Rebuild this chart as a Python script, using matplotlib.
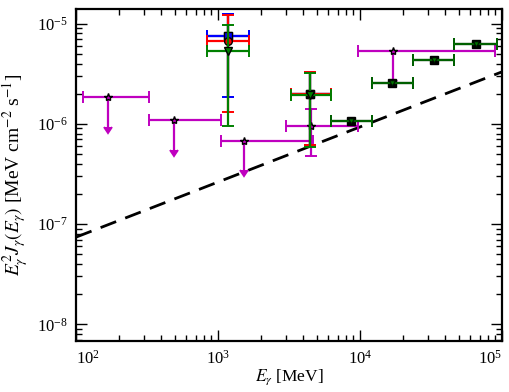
import numpy as np
import matplotlib
matplotlib.use('Agg')
import matplotlib.pyplot as plt

# --- data ---
# sensitivity curve (dashed)
E_sens = [1e2, 1e5]
F_sens = [7.4e-8, 3.3e-6]

# magenta: stars, mostly upper limits
E_m = [167, 492, 1530, 4500, 17000]
E_m_lo = [112, 325, 1050, 3000, 9640]
E_m_hi = [327, 1050, 4670, 9680, 89300]
F_m = [1.86e-6, 1.10e-6, 6.8e-7, 9.5e-7, 5.37e-6]
F_m_top = [1.86e-6, 1.10e-6, 6.8e-7, 1.41e-6, 5.37e-6]
F_m_bot = [9.3e-7, 5.5e-7, 3.5e-7, 4.8e-7, 2.75e-6]
m_ul = [True, True, True, False, True]

# two low bins shared by all models
E_lo = [1170, 4470]
E_lo_lo = [832, 3250]
E_lo_hi = [1652, 6220]

F_blue = [7.46e-6, 1.98e-6]
F_blue_top = [1.25e-5, 3.30e-6]
F_blue_bot = [1.85e-6, 6.2e-7]

F_red = [6.76e-6, 1.98e-6]
F_red_top = [1.23e-5, 3.26e-6]
F_red_bot = [1.31e-6, 6.1e-7]

F_green = [5.37e-6, 1.95e-6]
F_green_top = [9.7e-6, 3.20e-6]
F_green_bot = [9.55e-7, 5.9e-7]

# high bins (black + green coincide)
E_hi = [8650, 16900, 33300, 65300]
E_hi_lo = [6250, 12200, 23700, 46100]
E_hi_hi = [12200, 23700, 46100, 91800]
F_hi = [1.08e-6, 2.55e-6, 4.36e-6, 6.3e-6]

x_major = [1e2, 1e3, 1e4, 1e5]


def xerr_of(E, lo, hi):
    E = np.array(E)
    return [E - np.array(lo), np.array(hi) - E]


def yerr_of(F, top, bot):
    F = np.array(F)
    return [F - np.array(bot), np.array(top) - F]


plt.rcParams['font.family'] = ['Liberation Serif', 'DejaVu Serif']
plt.rcParams['mathtext.fontset'] = 'stix'
plt.rcParams['font.size'] = 12

fig = plt.figure(figsize=(5.1, 3.92), dpi=100)
ax = fig.add_axes([0.149, 0.130, 0.835, 0.847])

ax.plot(E_sens, F_sens, 'k--', lw=2.0, dashes=(6, 3.5))

kw = dict(lw=1.6, capsize=4, capthick=1.4, mec='k', ls='none')

# magenta
eb = ax.errorbar(E_m, F_m, xerr=xerr_of(E_m, E_m_lo, E_m_hi),
                 yerr=yerr_of(F_m, F_m_top, F_m_bot), uplims=m_ul,
                 color='m', marker='*', ms=6, mfc='m', zorder=3, **kw)
# smaller arrow heads on the upper limits
for cl in eb[1]:
    if cl.get_marker() not in ('|', '_'):
        cl.set_markersize(5.5)

# black (same as blue at low bins)
ax.errorbar(E_lo, F_blue, xerr=xerr_of(E_lo, E_lo_lo, E_lo_hi),
            yerr=yerr_of(F_blue, F_blue_top, F_blue_bot),
            color='k', marker='s', ms=6, mfc='k', alpha=0.6, zorder=4, **kw)
ax.errorbar(E_hi, F_hi, xerr=xerr_of(E_hi, E_hi_lo, E_hi_hi),
            color='k', marker='s', ms=5.5, mfc='k', zorder=4, **kw)

# blue
ax.errorbar(E_lo, F_blue, xerr=xerr_of(E_lo, E_lo_lo, E_lo_hi),
            yerr=yerr_of(F_blue, F_blue_top, F_blue_bot),
            color='b', marker='s', ms=6, mfc='b', zorder=5, **kw)
# red
ax.errorbar(E_lo, F_red, xerr=xerr_of(E_lo, E_lo_lo, E_lo_hi),
            yerr=yerr_of(F_red, F_red_top, F_red_bot),
            color='r', marker='o', ms=5.5, mfc='r', zorder=6, **kw)
# green
ax.errorbar(E_lo, F_green, xerr=xerr_of(E_lo, E_lo_lo, E_lo_hi),
            yerr=yerr_of(F_green, F_green_top, F_green_bot),
            color='g', marker='v', ms=5.5, mfc='g', zorder=7, **kw)
ax.errorbar(E_hi, F_hi, xerr=xerr_of(E_hi, E_hi_lo, E_hi_hi),
            color='g', marker='v', ms=4.5, mfc='g', alpha=0.75, zorder=7, **kw)

ax.set_xscale('log')
ax.set_yscale('log')
ax.set_xticks(x_major)
ax.set_xlim(1e2, 1e5)
ax.set_ylim(6.8e-9, 1.4e-5)

for s in ax.spines.values():
    s.set_linewidth(1.6)
ax.tick_params(which='both', direction='in', top=True, right=True)
ax.tick_params(which='major', length=8, width=1.0, pad=6)
ax.tick_params(which='minor', length=4, width=1.0)

ax.set_xlabel(r'$E_\gamma$ [MeV]', fontsize=12.5, labelpad=0)
ax.set_ylabel(r'$E_\gamma^2 J_\gamma(E_\gamma)$ [MeV cm$^{-2}$ s$^{-1}$]',
              fontsize=14, labelpad=4)

# keep the outer x tick labels inside the frame
fig.canvas.draw()
xl = ax.get_xticklabels()
xl[0].set_horizontalalignment('left')
xl[-1].set_horizontalalignment('right')

fig.savefig('out.png', dpi=100)
